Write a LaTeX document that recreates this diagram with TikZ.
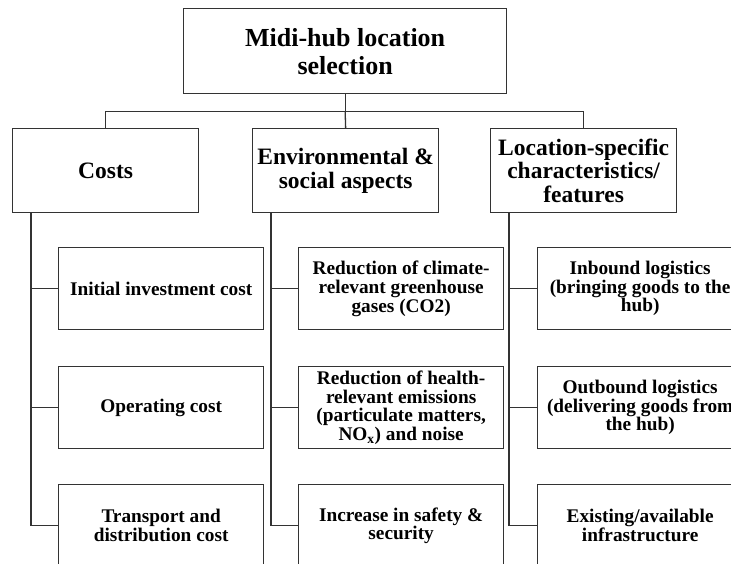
\documentclass[tikz,border=0pt]{standalone}
\usepackage{fontspec}
\setmainfont{Liberation Serif}
\usetikzlibrary{calc}

\begin{document}
\begin{tikzpicture}[x=1pt,y=-1pt,line width=1.3pt,
    every node/.style={align=center,inner sep=0pt,anchor=north west},
    topbox/.style={draw=black!80,minimum width=323pt,minimum height=85pt,
        font=\bfseries\fontsize{26}{28}\selectfont},
    groupbox/.style={draw=black!80,minimum width=186pt,minimum height=84pt,
        font=\bfseries\fontsize{23.5}{23.5}\selectfont},
    leafbox/.style={draw=black!80,minimum width=205pt,minimum height=82pt,
        font=\bfseries\fontsize{19.3}{18.7}\selectfont}]
    % page frame
    \fill[white] (0,0) rectangle (731,564);
    \useasboundingbox (0,0) rectangle (731,564);
    \clip (0,0) rectangle (731,564);

    % the goal
    \node[topbox] (top) at (183,8) {Midi-hub location\\selection};

    % the three groups of criteria
    \node[groupbox] (costs) at (12,128)  {Costs};
    \node[groupbox] (env)   at (252,128) {Environmental \&\\social aspects};
    \node[groupbox] (loc)   at (490,128) {Location-specific\\characteristics/\\features};

    % the criteria of each group
    \node[leafbox] (costs1) at (58,247) {Initial investment cost};
    \node[leafbox] (costs2) at (58,366) {Operating cost};
    \node[leafbox] (costs3) at (58,484) {Transport and\\distribution cost};

    \node[leafbox] (env1) at (298,247) {Reduction of climate-\\relevant greenhouse\\gases (CO2)};
    \node[leafbox] (env2) at (298,366) {Reduction of health-\\relevant emissions\\(particulate matters,\\NO\textsubscript{x}) and noise};
    \node[leafbox] (env3) at (298,484) {Increase in safety \&\\security};

    \node[leafbox] (loc1) at (537,247) {Inbound logistics\\(bringing goods to the\\hub)};
    \node[leafbox] (loc2) at (537,366) {Outbound logistics\\(delivering goods from\\the hub)};
    \node[leafbox] (loc3) at (537,484) {Existing/available\\infrastructure};

    % goal to groups
    \draw[black!80] (top.south) -- ++(0,17) coordinate (bus);
    \draw[black!80] (costs.north) |- (bus) -| (loc.north);
    \draw[black!80] (bus) -- (env.north);

    % groups to criteria
    \foreach \g in {costs,env,loc} {
        \coordinate (\g-t) at ($(\g.south west)+(19,0)$);
        \draw[black!80] (\g-t) |- (\g3.west);
        \foreach \i in {1,2}
            \draw[black!80] (\g-t |- \g\i.west) -- (\g\i.west);
        }
\end{tikzpicture}
\end{document}
